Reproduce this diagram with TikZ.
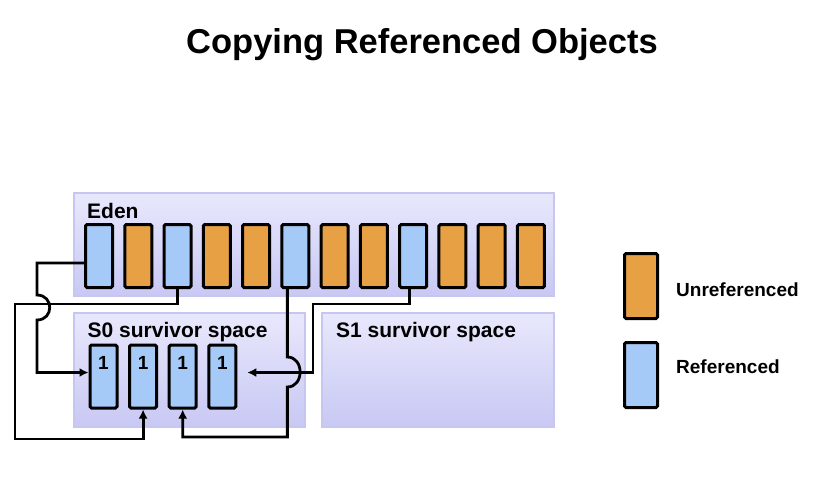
\documentclass[tikz,border=0pt]{standalone}
\usepackage{fontspec}
\setmainfont{Liberation Sans}
\usetikzlibrary{arrows.meta,positioning}

\definecolor{lavtop}{RGB}{232,232,252}
\definecolor{lavbot}{RGB}{200,200,244}
\definecolor{lavedge}{RGB}{198,198,240}
\definecolor{unrefcol}{RGB}{232,160,68}
\definecolor{refcol}{RGB}{166,202,248}

\tikzset{
  region/.style={draw=lavedge, line width=2pt, top color=lavtop, bottom color=lavbot, inner sep=0pt},
  cell/.style={draw=black, line width=3pt, rounded corners=1.5pt, minimum width=27pt, minimum height=63pt, inner sep=0pt},
  refcell/.style={cell, fill=refcol},
  unrefcell/.style={cell, fill=unrefcol},
  link/.style={-{Latex[length=9pt,width=9pt]}, line width=2.8pt},
  areatext/.style={font=\bfseries\fontsize{21}{24}\selectfont, anchor=base west, inner sep=0pt},
  keytext/.style={font=\bfseries\fontsize{19}{22}\selectfont, anchor=base west, inner sep=0pt},
  numtext/.style={font=\bfseries\fontsize{19}{22}\selectfont, inner sep=0pt}
}

\begin{document}
\begin{tikzpicture}[x=1pt, y=-1pt, node distance=39.27pt]
\useasboundingbox (0,0) rectangle (824,480);

% title
\node[font=\bfseries\fontsize{34.5}{40}\selectfont, anchor=base, inner sep=0pt] (title) at (422,53) {Copying Referenced Objects};

% areas
\node[region, minimum width=480pt, minimum height=103pt] (eden) at (314,244.5) {};
\node[region, minimum width=231pt, minimum height=114pt] (szero) at (189.5,370) {};
\node[region, minimum width=232pt, minimum height=114pt] (sone) at (438,370) {};
\node[areatext] (edenlbl) at (87,218) {Eden};
\node[areatext] (szerolbl) at (87.5,337) {S0 survivor space};
\node[areatext] (sonelbl) at (336,337) {S1 survivor space};

% eden objects
\node[refcell] (e0) at (99,256) {};
\node[unrefcell] (e1) [right of=e0] {};
\node[refcell] (e2) [right of=e1] {};
\node[unrefcell] (e3) [right of=e2] {};
\node[unrefcell] (e4) [right of=e3] {};
\node[refcell] (e5) [right of=e4] {};
\node[unrefcell] (e6) [right of=e5] {};
\node[unrefcell] (e7) [right of=e6] {};
\node[refcell] (e8) [right of=e7] {};
\node[unrefcell] (e9) [right of=e8] {};
\node[unrefcell] (e10) [right of=e9] {};
\node[unrefcell] (e11) [right of=e10] {};

% survivor objects
\node[refcell] (s0) at (103.5,376.5) {};
\node[refcell, node distance=39.6pt] (s1) [right of=s0] {};
\node[refcell, node distance=39.6pt] (s2) [right of=s1] {};
\node[refcell, node distance=39.6pt] (s3) [right of=s2] {};
\node[numtext] (n0) at ([yshift=-19pt]s0.north) {1};
\node[numtext] (n1) at ([yshift=-19pt]s1.north) {1};
\node[numtext] (n2) at ([yshift=-19pt]s2.north) {1};
\node[numtext] (n3) at ([yshift=-19pt]s3.north) {1};

% legend
\node[unrefcell, minimum width=33pt, minimum height=65pt] (keyunref) at (641,286) {};
\node[refcell, minimum width=33pt, minimum height=65pt] (keyref) at (641,375) {};
\node[keytext] (keyunreflbl) at (676,296) {Unreferenced};
\node[keytext] (keyreflbl) at (676,373) {Referenced};

% copies
\draw[link] ([yshift=-7pt]e0.west) -| (37,295) .. controls +(17,0) and +(17,0) .. ++(0,25) |- ([yshift=4pt]s0.west);
\draw[link] (e2.south) |- (15,304) -- (15,439) -| (s1.south);
\draw[link] ([xshift=-8pt]e5.south) -- ++(0,68) .. controls +(17,0) and +(17,0) .. ++(0,30) -- ++(0,50) -| (s2.south);
\draw[link] ([xshift=-4pt]e8.south) |- (313,304) |- ([xshift=10pt,yshift=4pt]s3.east);

\end{tikzpicture}
\end{document}
